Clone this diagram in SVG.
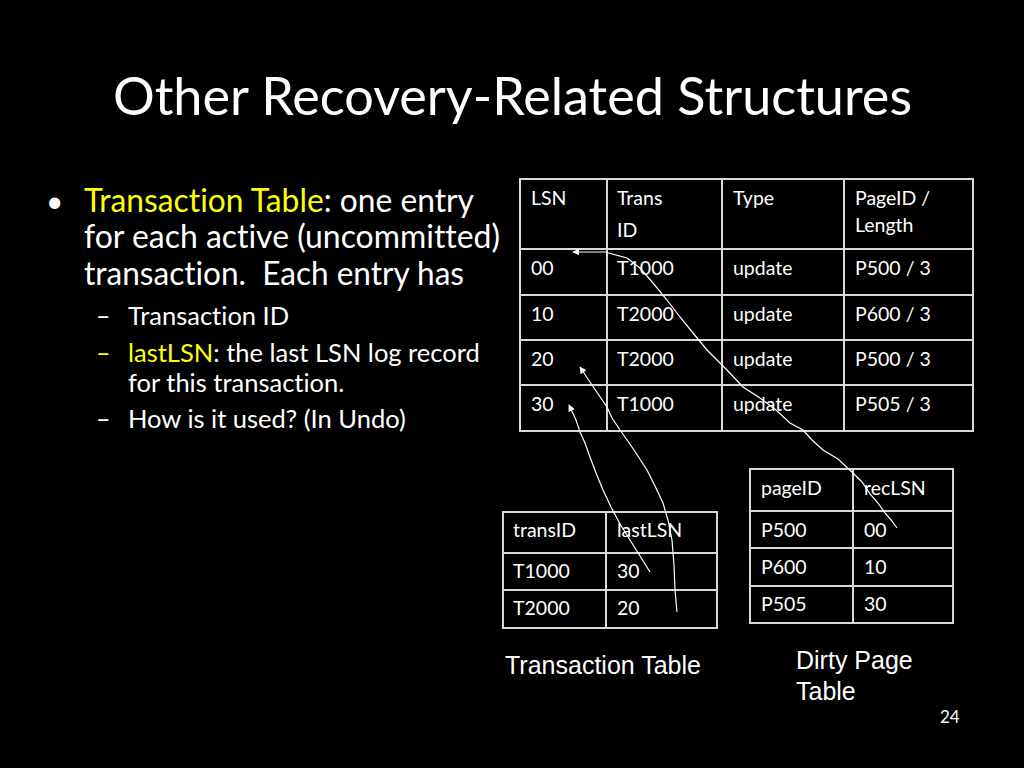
<svg xmlns="http://www.w3.org/2000/svg" width="1024" height="768" viewBox="0 0 1024 768">
<defs>
<style>
text{font-variant-ligatures:none;font-feature-settings:"liga" 0,"clig" 0}
.t{font-family:Lato,"Open Sans","Liberation Sans",sans-serif;fill:#fff;white-space:pre}
.y{fill:#ffff00}
.c{font-family:Lato,"Open Sans","Liberation Sans",sans-serif;fill:#fff;font-size:19.5px}
.a{font-family:"Liberation Sans",Arial,sans-serif;fill:#fff;font-size:25px}
.g{fill:none;stroke:#d9d9d9;stroke-width:2}
.k{fill:none;stroke:#fff;stroke-width:1.2}
</style>
<marker id="ah" viewBox="0 0 10 10" refX="9" refY="5" markerWidth="7" markerHeight="7" orient="auto" markerUnits="userSpaceOnUse">
<path d="M0,0 L10,5 L0,10 z" fill="#fff"/>
</marker>
</defs>
<rect width="1024" height="768" fill="#000"/>
<text class="t" x="113" y="115" font-size="53" textLength="799" lengthAdjust="spacingAndGlyphs">Other Recovery-Related Structures</text>

<g id="bullets">
<text class="t" x="46" y="212" font-size="30">•</text>
<text class="t" x="84" y="212" font-size="32" textLength="390" lengthAdjust="spacingAndGlyphs"><tspan class="y">Transaction Table</tspan>: one entry</text>
<text class="t" x="84" y="248" font-size="32" textLength="416" lengthAdjust="spacingAndGlyphs">for each active (uncommitted)</text>
<text class="t" x="84" y="285" font-size="32" textLength="380" lengthAdjust="spacingAndGlyphs" xml:space="preserve">transaction.  Each entry has</text>
<text class="t" x="96" y="325" font-size="25">–</text>
<text class="t" x="128" y="325" font-size="25.5">Transaction ID</text>
<text class="t y" x="96" y="362" font-size="25">–</text>
<text class="t" x="128" y="362" font-size="25.5"><tspan class="y">lastLSN</tspan>: the last LSN log record</text>
<text class="t" x="128" y="392" font-size="25.5">for this transaction.</text>
<text class="t" x="96" y="428" font-size="25">–</text>
<text class="t" x="128" y="428" font-size="25.5">How is it used? (In Undo)</text>
</g>

<g id="log-table">
<rect class="g" x="520" y="179" width="453" height="252"/>
<path class="g" d="M607,179V431M722,179V431M844,179V431M520,249H973M520,295H973M520,340H973M520,385H973"/>
<text class="c" x="531" y="205">LSN</text>
<text class="c" x="617" y="205">Trans</text>
<text class="c" x="617" y="237">ID</text>
<text class="c" x="733" y="205">Type</text>
<text class="c" x="855" y="205">PageID /</text>
<text class="c" x="855" y="232">Length</text>
<text class="c" x="531" y="275">00</text><text class="c" x="617" y="275">T1000</text><text class="c" x="733" y="275">update</text><text class="c" x="855" y="275">P500 / 3</text>
<text class="c" x="531" y="321">10</text><text class="c" x="617" y="321">T2000</text><text class="c" x="733" y="321">update</text><text class="c" x="855" y="321">P600 / 3</text>
<text class="c" x="531" y="366">20</text><text class="c" x="617" y="366">T2000</text><text class="c" x="733" y="366">update</text><text class="c" x="855" y="366">P500 / 3</text>
<text class="c" x="531" y="411">30</text><text class="c" x="617" y="411">T1000</text><text class="c" x="733" y="411">update</text><text class="c" x="855" y="411">P505 / 3</text>
</g>

<g id="transaction-table">
<rect class="g" x="503" y="512" width="214" height="116"/>
<path class="g" d="M606,512V628M503,553H717M503,590H717"/>
<text class="c" x="513" y="537">transID</text><text class="c" x="617" y="537">lastLSN</text>
<text class="c" x="513" y="578">T1000</text><text class="c" x="617" y="578">30</text>
<text class="c" x="513" y="615">T2000</text><text class="c" x="617" y="615">20</text>
<text class="a" x="505" y="674">Transaction Table</text>
</g>

<g id="dirty-page-table">
<rect class="g" x="750" y="469" width="203" height="154"/>
<path class="g" d="M853,469V623M750,511H953M750,548H953M750,586H953"/>
<text class="c" x="761" y="495">pageID</text><text class="c" x="864" y="495">recLSN</text>
<text class="c" x="761" y="537">P500</text><text class="c" x="864" y="537">00</text>
<text class="c" x="761" y="574">P600</text><text class="c" x="864" y="574">10</text>
<text class="c" x="761" y="611">P505</text><text class="c" x="864" y="611">30</text>
<text class="a" x="796" y="669">Dirty Page</text>
<text class="a" x="796" y="700">Table</text>
</g>

<g id="connectors">
<path class="k" marker-end="url(#ah)" d="M897,528 L891,520 L885,513 L878,503 L870,494 L862,482 L853,473 L838,459 L823,450 L812,440 L803,430 L790,423 L776,410 L760,398 L743,387 L726,369 L707,350 L693,333 L680,317 L667,300 L653,283 L640,268 L627,258 L605,252 L573,252"/>
<path class="k" marker-end="url(#ah)" d="M650,572 L640,556 L630,540 L620,524 L611,507 L603,490 L596,473 L590,457 L585,443 L580,432 L576,420 L569,405"/>
<path class="k" marker-end="url(#ah)" d="M677,612 L675,590 L674,565 L672,540 L668,520 L663,503 L655,486 L647,470 L634,450 L620,430 L612,418 L607,407 L594,388 L580,367"/>
</g>

<text class="t" x="940" y="723" font-size="17">24</text>
</svg>
